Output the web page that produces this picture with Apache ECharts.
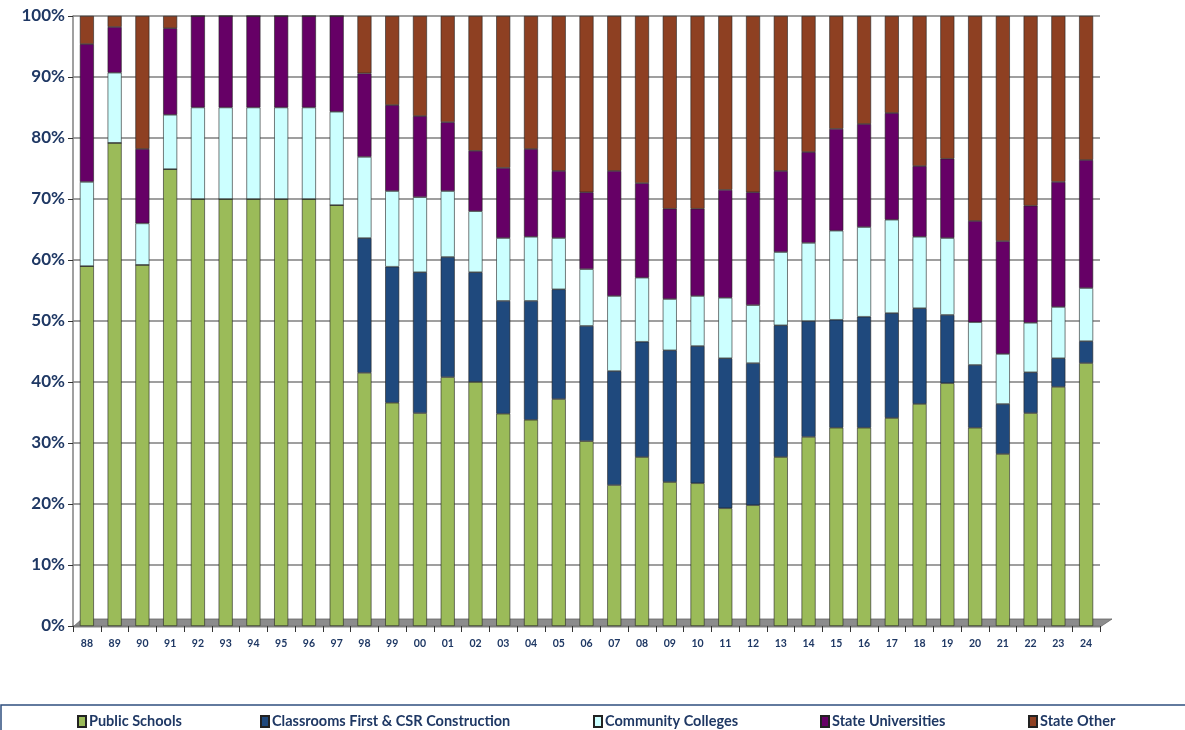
<!DOCTYPE html>
<html><head><meta charset="utf-8">
<script src="https://cdn.jsdelivr.net/npm/echarts@6/dist/echarts.min.js"></script>
<style>html,body{margin:0;padding:0;background:#fff}#c{width:1185px;height:730px}</style>
</head><body><div id="c"></div>
<script>
const years = ['88','89','90','91','92','93','94','95','96','97','98','99','00','01','02','03','04','05','06','07','08','09','10','11','12','13','14','15','16','17','18','19','20','21','22','23','24'];
const publicSchools = [59,79.2,59.2,74.9,70,70,70,70,70,69,41.5,36.6,34.9,40.8,40.0,34.8,33.8,37.2,30.3,23.1,27.7,23.6,23.4,19.3,19.8,27.7,31.0,32.5,32.5,34.1,36.4,39.8,32.5,28.2,34.9,39.2,43.1];
const classroomsFirst = [0,0,0,0,0,0,0,0,0,0,22.1,22.3,23.1,19.7,18.0,18.5,19.5,18.0,18.9,18.7,18.9,21.6,22.5,24.6,23.3,21.6,19.0,17.7,18.2,17.2,15.7,11.2,10.3,8.2,6.7,4.7,3.6];
const communityColleges = [13.8,11.5,6.8,8.9,15,15,15,15,15,15.3,13.3,12.4,12.3,10.8,10.0,10.3,10.5,8.4,9.3,12.3,10.5,8.4,8.2,9.9,9.5,12.0,12.8,14.6,14.7,15.3,11.7,12.6,7.0,8.2,8.1,8.4,8.7];
const stateUniversities = [22.6,7.5,12.2,14.2,15,15,15,15,15,15.7,13.7,14.1,13.3,11.3,9.9,11.5,14.4,11.0,12.6,20.5,15.5,14.8,14.3,17.7,18.5,13.3,14.9,16.7,16.9,17.5,11.6,13.0,16.6,18.5,19.2,20.5,21.0];
const stateOther = [4.6,1.8,21.8,2.0,0,0,0,0,0,0,9.4,14.6,16.4,17.4,22.1,24.9,21.8,25.4,28.9,25.4,27.4,31.6,31.6,28.5,28.9,25.4,22.3,18.5,17.7,15.9,24.6,23.4,33.6,36.9,31.1,27.2,23.6];
const seriesNames = ['Public Schools','Classrooms First & CSR Construction','Community Colleges','State Universities','State Other'];
const colors = ['#9BBB59','#1F497D','#CCFFFF','#660066','#8E4022'];
const yTicks = [0,10,20,30,40,50,60,70,80,90,100];

const dataSets = [publicSchools, classroomsFirst, communityColleges, stateUniversities, stateOther];
const txt = '#1F3864';
const font = 'Lato, "Liberation Sans", sans-serif';
const chart = echarts.init(document.getElementById('c'));
const legendLefts = [72, 255, 588, 815, 1023];
chart.setOption({
  animation: false,
  backgroundColor: '#fff',
  grid: {left: 73, right: 85, top: 16, bottom: 104},
  xAxis: {
    type: 'category', data: years,
    axisLine: {lineStyle: {color: '#808080', width: 1.5}},
    axisTick: {show: true, length: 6, lineStyle: {color: '#333'}},
    axisLabel: {color: txt, fontSize: 10.5, fontWeight: 'bold', fontFamily: font, margin: 12}
  },
  yAxis: {
    type: 'value', min: 0, max: 100, interval: 10,
    axisLine: {show: true, lineStyle: {color: '#808080', width: 1.5}},
    axisTick: {show: true, length: 5, lineStyle: {color: '#333'}},
    splitLine: {lineStyle: {color: '#7F7F7F', width: 1.5}},
    axisLabel: {color: txt, fontSize: 17, fontWeight: 'bold', fontFamily: font, margin: 8,
      formatter: v => yTicks.includes(v) ? v + '%' : ''}
  },
  legend: seriesNames.map((n, i) => ({
    data: [n], left: legendLefts[i], top: 709, itemWidth: 8, itemHeight: 11, itemGap: 4,
    textStyle: {color: txt, fontSize: 14.5, fontWeight: 'bold', fontFamily: font, padding: [0,0,0,-2]},
    selectedMode: false, icon: 'rect'
  })),
  graphic: [
    {type: 'rect', shape: {x: 1, y: 705, width: 1200, height: 40},
      style: {fill: 'none', stroke: '#2F4F7F', lineWidth: 1.5}, silent: true},
    {type: 'polygon', shape: {points: [[73,627],[82,619],[1112,619],[1100,627]]},
      style: {fill: '#8C8C8C', stroke: '#666', lineWidth: 0.8}, silent: true, z: -1}
  ],
  series: dataSets.map((d, i) => ({
    name: seriesNames[i], type: 'bar', stack: 'all', data: d, barWidth: 14,
    itemStyle: {color: colors[i], borderColor: '#222', borderWidth: 0.6}
  }))
});
</script></body></html>
